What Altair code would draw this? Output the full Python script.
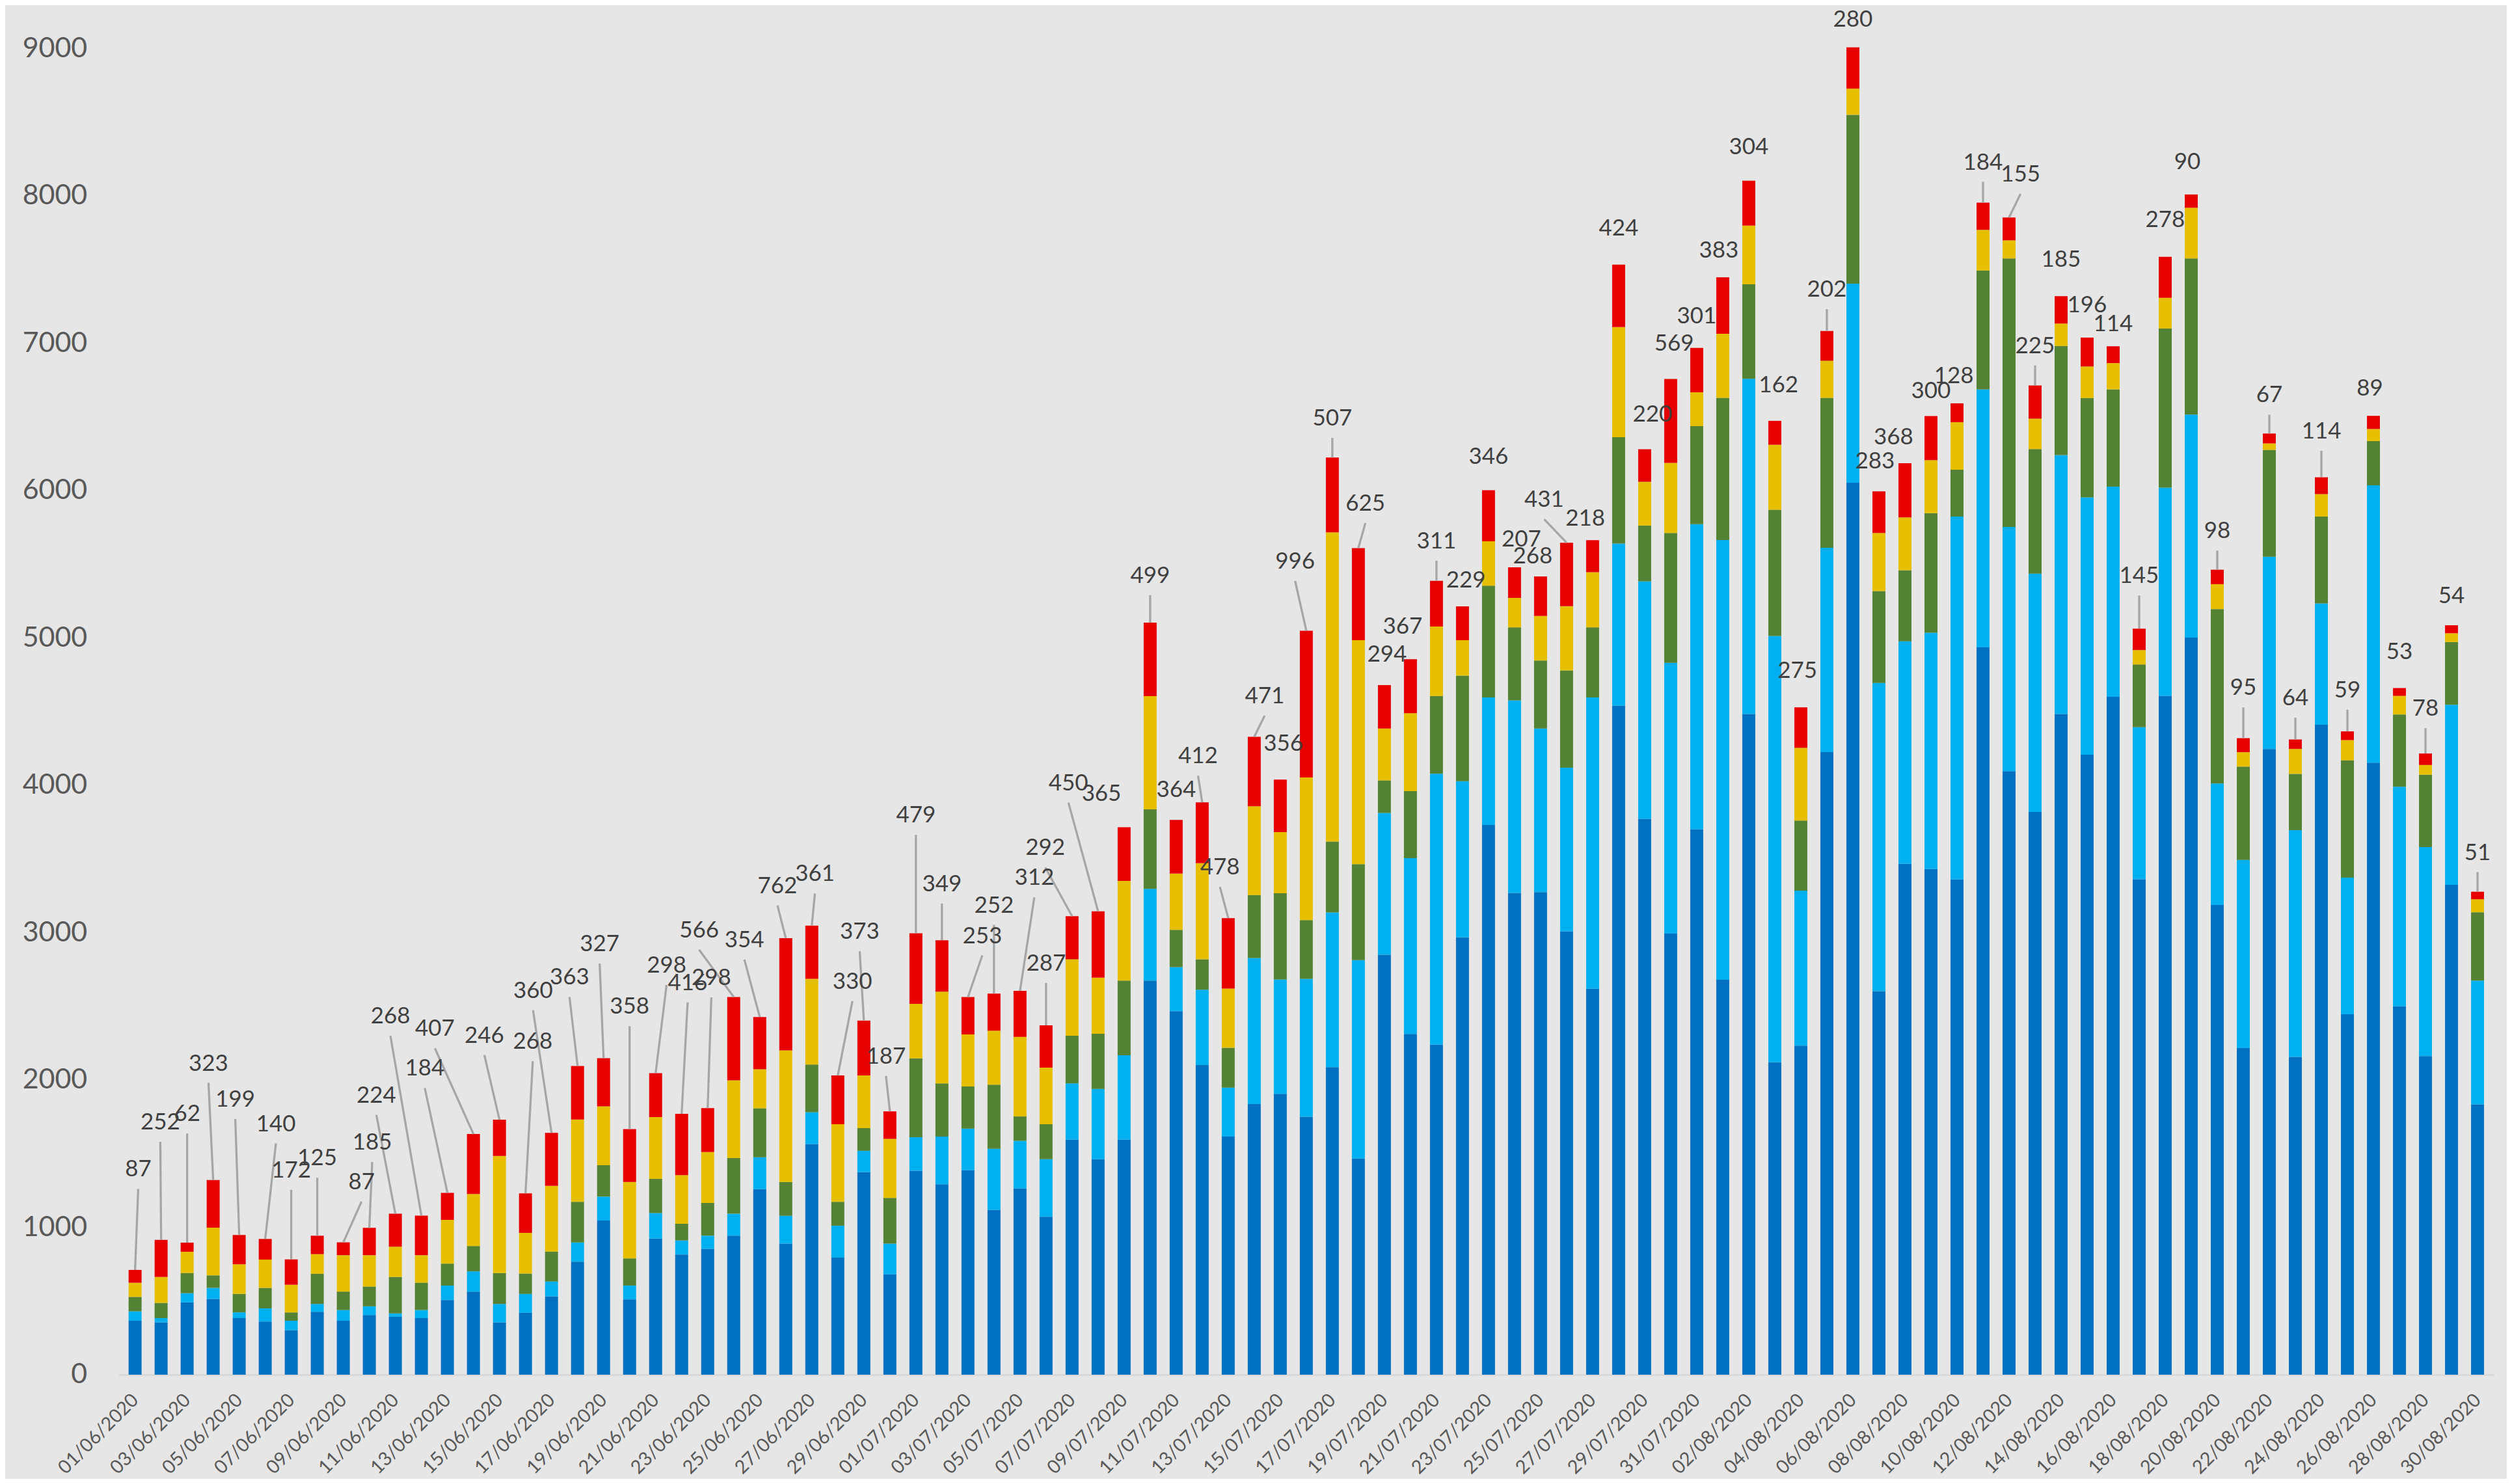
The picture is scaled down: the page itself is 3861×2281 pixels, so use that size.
import altair as alt
import pandas as pd

dates = pd.date_range("2020-06-01", "2020-08-30").strftime("%d/%m/%Y").tolist()

series_names = ["Serie 1", "Serie 2", "Serie 3", "Serie 4", "Serie 5"]
series_colors = ["#0070C0", "#00B0F0", "#548235", "#E5BF00", "#E60000"]

dark_blue = [366, 355, 491, 514, 384, 361, 302, 427, 366, 405,
             393, 384, 507, 564, 355, 421, 532, 767, 1046, 511,
             924, 816, 854, 943, 1259, 889, 1565, 794, 1375, 681,
             1384, 1292, 1387, 1118, 1263, 1072, 1595, 1462, 1595, 2674,
             2466, 2101, 1616, 1836, 1906, 1750, 2087, 1467, 2849, 2312,
             2240, 2967, 3730, 3269, 3274, 3008, 2619, 4539, 3771, 2993,
             3700, 2680, 4483, 2120, 2232, 4224, 6052, 2602, 3466, 3431,
             3360, 4935, 4095, 3818, 4483, 4207, 4600, 3362, 4606, 5001,
             3187, 2216, 4246, 2156, 4410, 2445, 4153, 2500, 2162, 3324, 1834]

light_blue = [64, 29, 62, 75, 39, 89, 64, 53, 73, 59,
              23, 55, 98, 137, 125, 127, 100, 130, 162, 94,
              173, 95, 89, 149, 216, 189, 216, 217, 144, 208,
              227, 324, 283, 415, 324, 390, 382, 477, 572, 622,
              299, 511, 332, 991, 776, 936, 1049, 1346, 963, 1193,
              1838, 1060, 865, 1306, 1111, 1111, 1976, 1100, 1612, 1837,
              2071, 2984, 2274, 2892, 1052, 1387, 1351, 2092, 1510, 1604,
              2463, 1751, 1657, 1617, 1757, 1746, 1426, 1031, 1413, 1514,
              824, 1277, 1304, 1539, 823, 928, 1882, 1489, 1418, 1222, 840]

green = [98, 103, 137, 85, 125, 139, 57, 205, 125, 134,
         247, 185, 149, 172, 210, 138, 203, 276, 213, 184,
         232, 113, 222, 378, 333, 230, 324, 162, 154, 311,
         535, 361, 286, 435, 165, 237, 323, 374, 507, 540,
         253, 207, 270, 428, 585, 399, 481, 651, 220, 455,
         527, 716, 758, 496, 461, 660, 476, 722, 379, 881,
         665, 964, 641, 857, 476, 1017, 1146, 623, 482, 811,
         317, 806, 1822, 846, 740, 674, 660, 426, 1080, 1059,
         1184, 633, 725, 382, 590, 796, 300, 491, 491, 425, 464]

yellow = [96, 176, 144, 324, 201, 192, 187, 133, 247, 213,
          205, 187, 296, 353, 794, 276, 446, 559, 400, 519,
          419, 330, 346, 527, 265, 892, 581, 527, 357, 400,
          370, 622, 353, 366, 540, 385, 519, 381, 676, 768,
          382, 652, 402, 602, 415, 967, 2099, 1520, 353, 528,
          471, 241, 302, 200, 302, 435, 374, 747, 297, 476,
          230, 435, 399, 441, 493, 252, 177, 394, 359, 359,
          323, 276, 123, 206, 153, 214, 178, 98, 208, 344,
          169, 98, 44, 169, 152, 137, 82, 126, 66, 60, 88]

red = [87, 252, 62, 323, 199, 140, 172, 125, 87, 185,
       224, 268, 184, 407, 246, 268, 360, 363, 327, 358,
       298, 416, 298, 566, 354, 762, 361, 330, 373, 187,
       479, 349, 253, 252, 312, 287, 292, 450, 365, 499,
       364, 412, 478, 471, 356, 996, 507, 625, 294, 367,
       311, 229, 346, 207, 268, 431, 218, 424, 220, 569,
       301, 383, 304, 162, 275, 202, 280, 283, 368, 300,
       128, 184, 155, 225, 185, 196, 114, 145, 278, 90,
       98, 95, 67, 64, 114, 59, 89, 53, 78, 54, 51]

# label anchor (value units) and sideways shift (in days) of each data label
label_y = [1393, 1712, 1769, 2112, 1867, 1701, 1386, 1468, 1306, 1575,
           1895, 2431, 2077, 2347, 2301, 2259, 2605, 2695, 2922, 2497,
           2776, 2659, 2692, 3016, 2949, 3316, 3397, 2667, 3005, 2159,
           3795, 3329, 2977, 3184, 3371, 2790, 3574, 4014, 3940, 5421,
           3969, 4197, 3442, 4604, 4284, 5517, 6489, 5911, 4887, 5076,
           5655, 5388, 6228, 5670, 5552, 5936, 5808, 7779, 6515, 6996,
           7180, 7627, 8332, 6716, 4776, 7362, 9197, 6199, 6363, 6675,
           6775, 8226, 8144, 6980, 7568, 7256, 7127, 5419, 7836, 8229,
           5724, 4660, 6646, 4590, 6401, 4644, 6690, 4906, 4519, 5282, 3542]

label_dx = [0.12, -0.03, 0, -0.18, -0.15, 0.41, 0, 0, 0.7, 0.11,
            -0.73, -1.19, -0.87, -1.48, -0.58, 0.28, -0.71, -0.31, -0.15, 0,
            0.42, 0.23, 0.14, -1.33, -0.59, -0.32, 0.12, 0.56, -0.16, -0.15,
            0, 0, 0.55, 0, 0.55, 0, -1.03, -1.14, -0.87, 0,
            0, -0.16, -0.32, 0.4, 0.12, -0.43, 0, 0.27, 0.1, -0.3,
            0, 0.13, 0, 0.26, -0.3, -0.86, -0.28, 0, 0.3, 0.13,
            0, -0.15, 0, 0.14, -0.13, 0, 0, -0.15, -0.44, 0,
            -0.12, 0, 0.44, 0, 0, 0, 0, 0, 0, -0.15,
            0, 0, 0, 0, 0, 0, -0.14, 0, 0, 0, 0]

series_values = [dark_blue, light_blue, green, yellow, red]

rows = []
for i in range(len(dates)):
    for k, (name, arr) in enumerate(zip(series_names, series_values)):
        rows.append({"idx": i, "date": dates[i], "series": name, "ord": k, "value": arr[i]})
df = pd.DataFrame(rows)

totals = [sum(s[i] for s in series_values) for i in range(len(dates))]
lab = pd.DataFrame({
    "idx": list(range(len(dates))),
    "lx": [i + d for i, d in enumerate(label_dx)],
    "ly": label_y,
    "text": [str(v) for v in red],
    "total": totals,
})
lab["ls"] = lab["ly"] - 132
lines = lab[(lab["ls"] - lab["total"]) > 125]

x_scale = alt.Scale(domain=[-0.5, 90.5], nice=False, zero=False)
y_scale = alt.Scale(domain=[0, 9000], nice=False, zero=True)

label_expr = "[" + ",".join("'%s'" % d for d in dates) + "][datum.value]"

x_axis = alt.Axis(values=list(range(0, 91, 2)), labelExpr=label_expr, labelAngle=-45,
                  labelAlign="right", labelBaseline="middle", labelFontSize=29,
                  labelColor="#595959", labelFont="Lato", domainColor="#D9D9D9",
                  domainWidth=3, ticks=False, grid=False, title=None, labelPadding=34,
                  labelOverlap=False, labelBound=False, labelFlush=False)
y_axis = alt.Axis(values=list(range(0, 9001, 1000)), format="d", domain=False, ticks=False,
                  grid=False, title=None, labelFontSize=43, labelColor="#595959",
                  labelFont="Lato", labelPadding=49)

bars = alt.Chart(df).mark_bar(size=20).encode(
    x=alt.X("idx:Q", scale=x_scale, axis=x_axis),
    y=alt.Y("value:Q", stack="zero", scale=y_scale, axis=y_axis),
    color=alt.Color("series:N", scale=alt.Scale(domain=series_names, range=series_colors), legend=None),
    order=alt.Order("ord:Q", sort="ascending"),
)

rules = alt.Chart(lines).mark_rule(color="#A6A6A6", strokeWidth=3.3).encode(
    x=alt.X("lx:Q", scale=x_scale, axis=x_axis),
    y=alt.Y("ls:Q", scale=y_scale, axis=y_axis),
    x2="idx:Q",
    y2="total:Q",
)

texts = alt.Chart(lab).mark_text(font="Lato", fontSize=35, color="#404040",
                                 baseline="middle", align="center").encode(
    x=alt.X("lx:Q", scale=x_scale, axis=x_axis),
    y=alt.Y("ly:Q", scale=y_scale, axis=y_axis),
    text="text:N",
)

chart = alt.layer(bars, rules, texts).properties(
    width=3658, height=2043,
    autosize=alt.AutoSizeParams(type="none"),
    padding={"left": 175, "top": 64, "right": 20, "bottom": 158},
    background="#E6E6E6",
).configure_view(stroke=None)

chart.save("out.html", embed_options={"renderer": "svg", "actions": False})
